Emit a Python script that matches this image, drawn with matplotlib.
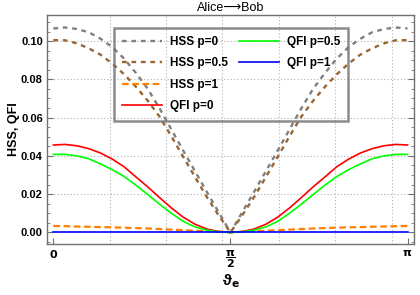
import matplotlib
matplotlib.use('Agg')
import matplotlib.pyplot as plt
import matplotlib.ticker as mticker
from matplotlib.lines import Line2D
import numpy as np

# sample angles (degrees), 0 .. 180
theta_deg = [0, 6, 12, 18, 24, 30, 36, 42, 48, 54, 60, 66, 72, 78, 84, 90,
             96, 102, 108, 114, 120, 126, 132, 138, 144, 150, 156, 162, 168, 174, 180]

hss_p0 = [0.1066, 0.1071, 0.1063, 0.1046, 0.1012, 0.0968, 0.0908, 0.0833, 0.0750, 0.0648,
          0.0538, 0.0428, 0.0320, 0.0212, 0.0106, 0.0,
          0.0106, 0.0212, 0.0320, 0.0428, 0.0538, 0.0648, 0.0750, 0.0833, 0.0908, 0.0968,
          0.1012, 0.1046, 0.1063, 0.1071, 0.1066]
hss_p05 = [0.1005, 0.1004, 0.0988, 0.0962, 0.0929, 0.0882, 0.0826, 0.0761, 0.0688, 0.0605,
           0.0502, 0.0395, 0.0290, 0.0185, 0.0090, 0.0,
           0.0090, 0.0185, 0.0290, 0.0395, 0.0502, 0.0605, 0.0688, 0.0761, 0.0826, 0.0882,
           0.0929, 0.0962, 0.0988, 0.1004, 0.1005]
hss_p1 = [0.0034, 0.0033, 0.0031, 0.0030, 0.0028, 0.0027, 0.0025, 0.0023, 0.0021, 0.0018,
          0.0015, 0.0012, 0.0009, 0.0007, 0.0004, 0.0,
          0.0004, 0.0007, 0.0009, 0.0012, 0.0015, 0.0018, 0.0021, 0.0023, 0.0025, 0.0027,
          0.0028, 0.0030, 0.0031, 0.0033, 0.0034]
qfi_p0 = [0.0457, 0.0460, 0.0453, 0.0438, 0.0415, 0.0383, 0.0343, 0.0290, 0.0238, 0.0182,
          0.0128, 0.0080, 0.0043, 0.0018, 0.0005, 0.0,
          0.0005, 0.0018, 0.0043, 0.0080, 0.0128, 0.0182, 0.0238, 0.0290, 0.0343, 0.0383,
          0.0415, 0.0438, 0.0453, 0.0460, 0.0457]
qfi_p05 = [0.0408, 0.0408, 0.0400, 0.0385, 0.0358, 0.0328, 0.0292, 0.0247, 0.0198, 0.0148,
           0.0100, 0.0058, 0.0029, 0.0012, 0.0003, 0.0,
           0.0003, 0.0012, 0.0029, 0.0058, 0.0100, 0.0148, 0.0198, 0.0247, 0.0292, 0.0328,
           0.0358, 0.0385, 0.0400, 0.0408, 0.0408]
qfi_p1 = [0.0, 0.0, 0.0, 0.0, 0.0, 0.0, 0.0, 0.0, 0.0, 0.0, 0.0, 0.0, 0.0, 0.0, 0.0, 0.0,
          0.0, 0.0, 0.0, 0.0, 0.0, 0.0, 0.0, 0.0, 0.0, 0.0, 0.0, 0.0, 0.0, 0.0, 0.0]

y_ticks = [0.00, 0.02, 0.04, 0.06, 0.08, 0.10]
y_labels = ['0.00', '0.02', '0.04', '0.06', '0.08', '0.10']
x_ticks = [0, np.pi / 2, np.pi]
x_labels = [r'$\mathbf{0}$', r'$\mathbf{\dfrac{\pi}{2}}$', r'$\mathbf{\pi}$']
grid_x = [0.5, 1.0, 1.5, 2.0, 2.5, 3.0]
grid_y = [0.02, 0.04, 0.06, 0.08, 0.10]

plt.rcParams['font.family'] = ['Liberation Sans', 'DejaVu Sans']
plt.rcParams['mathtext.fontset'] = 'dejavusans'

theta = np.deg2rad(theta_deg)

fig = plt.figure(figsize=(4.2, 2.95), dpi=100)
ax = fig.add_axes([0.112, 0.173, 0.874, 0.776])

for g in grid_x:
    ax.axvline(g, color='#b0b0b0', lw=0.8, ls=(0, (1, 2)), zorder=0)
for g in grid_y:
    ax.axhline(g, color='#b0b0b0', lw=0.8, ls=(0, (1, 2)), zorder=0)

l1, = ax.plot(theta, hss_p0, color='#808080', lw=1.7, ls=(0, (2, 2)))
l2, = ax.plot(theta, hss_p05, color='#996633', lw=1.7, ls=(0, (2, 2)))
l3, = ax.plot(theta, hss_p1, color='#ff8000', lw=1.6, ls=(0, (3, 1.6)))
l4, = ax.plot(theta, qfi_p0, color='#ff0000', lw=1.2)
l5, = ax.plot(theta, qfi_p05, color='#00ff00', lw=1.2)
l6, = ax.plot(theta, qfi_p1, color='#0000ff', lw=1.2)

ax.set_xlim(-0.056, 3.2)
ax.set_ylim(-0.006, 0.1136)

ax.set_xticks(x_ticks)
ax.set_xticklabels(x_labels, fontsize=8)
ax.set_yticks(y_ticks)
ax.set_yticklabels(y_labels, fontsize=8, fontweight='bold')
ax.yaxis.set_minor_locator(mticker.MultipleLocator(0.005))
ax.tick_params(axis='both', which='both', direction='in', right=True, color='#707070')
ax.tick_params(axis='both', which='major', length=4, pad=3)
ax.tick_params(axis='both', which='minor', length=2)

for s in ax.spines.values():
    s.set_color('#707070')
    s.set_linewidth(1.0)

ax.set_title('Alice⟶Bob', fontsize=9, pad=3)
ax.set_ylabel('HSS, QFI', fontsize=9, fontweight='bold', labelpad=1)
ax.set_xlabel('ϑ$_{\\mathbf{e}}$', fontsize=11, fontweight='bold', labelpad=2)

blank = Line2D([], [], color='none')
handles = [l1, l2, l3, l4, l5, l6, blank, blank]
labels = ['HSS p=0', 'HSS p=0.5', 'HSS p=1', 'QFI p=0', 'QFI p=0.5', 'QFI p=1', '', '']
leg = ax.legend(handles, labels, ncol=2, loc='upper left', bbox_to_anchor=(0.1826, 0.9445),
                borderaxespad=0, fancybox=False, edgecolor='#707070', facecolor='none',
                prop={'weight': 'bold', 'size': 8.5}, handlelength=3.4, handletextpad=0.6,
                columnspacing=1.0, labelspacing=0.8, borderpad=0.7)
leg.get_frame().set_linewidth(1.8)

fig.savefig('out.png', dpi=100)
